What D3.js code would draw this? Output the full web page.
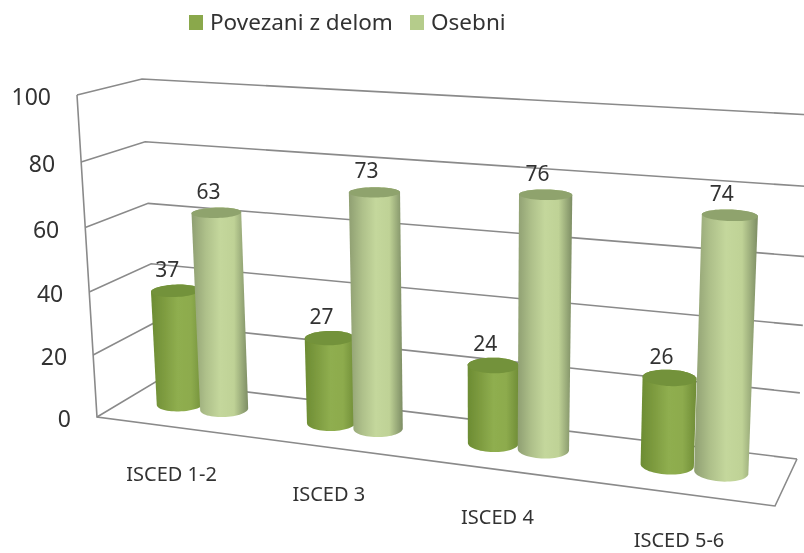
<!DOCTYPE html>
<html>
<head>
<meta charset="utf-8">
<script src="https://cdnjs.cloudflare.com/ajax/libs/d3/7.8.5/d3.min.js"></script>
<style>
  body { margin: 0; background: #fff; }
  text { font-family: "Noto Sans", sans-serif; fill: #333; }
</style>
</head>
<body>
<div id="chart"></div>
<script>
// values
const categories = ["ISCED 1-2", "ISCED 3", "ISCED 4", "ISCED 5-6"];
const seriesNames = ["Povezani z delom", "Osebni"];
const povezani = [37, 27, 24, 26];
const osebni = [63, 73, 76, 74];
const yTicks = [0, 20, 40, 60, 80, 100];

const width = 804, height = 553;

// corners of the 3d box on screen
const box = {
  front0: [[97, 417], [775, 506]],
  front100: [[77, 95], [790, 136]],
  back0: [[157, 381], [797, 459]],
  back100: [[142, 79], [812, 115]]
};

const yScale = d3.scaleLinear().domain([0, 100]).range([0, 1]);

// perspective along the category axis and up the value axis
const warp = (u, k) => u / (u + k * (1 - u));

function project(u, v, w) {
  const t = warp(u, 1.155), h = warp(yScale(w), 1.05);
  const mix = d3.interpolateNumber;
  const along = pair => [mix(pair[0][0], pair[1][0])(t), mix(pair[0][1], pair[1][1])(t)];
  const f0 = along(box.front0), f1 = along(box.front100);
  const b0 = along(box.back0), b1 = along(box.back100);
  const front = [mix(f0[0], f1[0])(h), mix(f0[1], f1[1])(h)];
  const back = [mix(b0[0], b1[0])(h), mix(b0[1], b1[1])(h)];
  return [mix(front[0], back[0])(v), mix(front[1], back[1])(v)];
}

const svg = d3.select("#chart").append("svg")
  .attr("width", width)
  .attr("height", height)
  .style("display", "block");

const defs = svg.append("defs");
defs.append("filter").attr("id", "soft")
  .append("feGaussianBlur").attr("stdDeviation", 0.45);

const bodyStops = [
  ["#6c8c33", "#7e9c40", "#8fae4f", "#8dab4d", "#6f8c36"],
  ["#8f9f72", "#aec08a", "#c4d79c", "#bfd296", "#7d8d64"]
];
const topColors = ["#73923a", "#8fa36d"];
const swatchColors = ["#8aa84c", "#b5cc8b"];

bodyStops.forEach((stops, i) => {
  const grad = defs.append("linearGradient").attr("id", `body-${i}`);
  grad.selectAll("stop").data(stops).join("stop")
    .attr("offset", (d, j) => `${j / (stops.length - 1) * 100}%`)
    .attr("stop-color", d => d);
});

const root = svg.append("g").attr("filter", "url(#soft)");

// walls and floor
const grid = root.append("g")
  .attr("fill", "none")
  .attr("stroke", "#8a8a8a")
  .attr("stroke-width", 1.6);
const line = d3.line();

yTicks.forEach(t => {
  grid.append("path").attr("d", line([project(0, 0, t), project(0, 1, t), project(1, 1, t)]));
});
grid.append("path").attr("d", line([project(0, 0, 100), project(0, 0, 0), project(1, 0, 0), project(1, 1, 0)]));

root.selectAll(".ytick").data(yTicks).join("text")
  .attr("class", "ytick")
  .attr("x", d => project(0, 0, d)[0] - 26)
  .attr("y", d => project(0, 0, d)[1] + 10)
  .attr("text-anchor", "end")
  .style("font-size", "23px")
  .text(d => d);

// cylinders
const x0 = d3.scaleBand().domain(categories).range([0, 1]);
const x1 = d3.scaleBand().domain(seriesNames).range([0, x0.bandwidth()]).paddingInner(0).paddingOuter(0.69);

const bars = [];
categories.forEach((c, i) => {
  seriesNames.forEach((s, j) => {
    bars.push({ c, s, j, value: (j === 0 ? povezani : osebni)[i] });
  });
});

const radiusU = 0.036, radiusV = 0.2, depth = 0.55;
const angles = d3.range(0, 2 * Math.PI, Math.PI / 30);
const barCenter = d => x0(d.c) + x1(d.s) + x1.bandwidth() / 2;
const ring = (d, w) => angles.map(a => project(
  barCenter(d) + radiusU * Math.cos(a),
  depth + radiusV * Math.sin(a),
  w
));

const barG = root.selectAll(".bar").data(bars).join("g").attr("class", "bar");
barG.append("path")
  .attr("d", d => line(d3.polygonHull(ring(d, 0).concat(ring(d, d.value)))) + "Z")
  .attr("fill", d => `url(#body-${d.j})`);
barG.append("path")
  .attr("d", d => line(ring(d, d.value)) + "Z")
  .attr("fill", d => topColors[d.j]);

root.selectAll(".value").data(bars).join("text")
  .attr("class", "value")
  .attr("x", d => project(barCenter(d), depth, d.value)[0] - 8)
  .attr("y", d => project(barCenter(d), depth, d.value)[1] - 14)
  .attr("text-anchor", "middle")
  .style("font-size", "21px")
  .text(d => d.value);

root.selectAll(".cat").data(categories).join("text")
  .attr("class", "cat")
  .attr("x", d => project(x0(d) + x0.bandwidth() / 2, 0, 0)[0])
  .attr("y", d => project(x0(d) + x0.bandwidth() / 2, 0, 0)[1] + 54)
  .attr("text-anchor", "middle")
  .style("font-size", "20px")
  .text(d => d);

// legend
const legendX = d3.scaleOrdinal().domain(seriesNames).range([189, 410]);
const legend = root.selectAll(".legend").data(seriesNames).join("g")
  .attr("class", "legend")
  .attr("transform", d => `translate(${legendX(d)},15)`);
legend.append("rect")
  .attr("width", 14)
  .attr("height", 15)
  .attr("fill", (d, i) => swatchColors[i]);
legend.append("text")
  .attr("x", 21)
  .attr("y", 15)
  .style("font-size", "22.5px")
  .text(d => d);
</script>
</body>
</html>
